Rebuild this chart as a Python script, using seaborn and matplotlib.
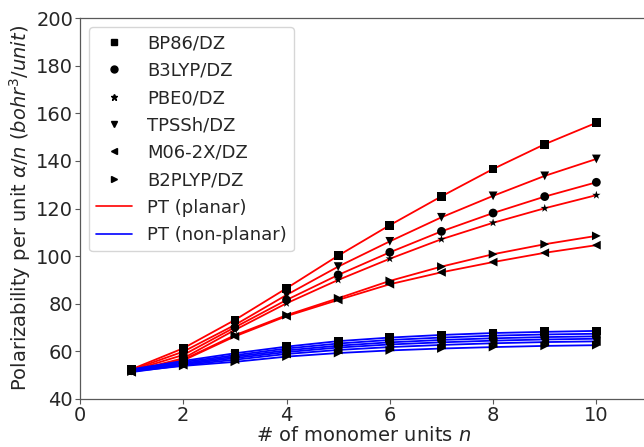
import numpy as np
import pandas as pd
import matplotlib
matplotlib.use("Agg")
import matplotlib.pyplot as plt
from matplotlib.lines import Line2D
import seaborn as sns

sns.set_style("ticks")
plt.rcParams["font.family"] = ["DejaVu Sans"]

# Number of monomer units
n_units = [1, 2, 3, 4, 5, 6, 7, 8, 9, 10]

functionals = ["BP86/DZ", "B3LYP/DZ", "PBE0/DZ", "TPSSh/DZ", "M06-2X/DZ", "B2PLYP/DZ"]
markers = ["s", "o", "*", "v", "<", ">"]

# Polarizability per unit (bohr^3/unit), planar chains
planar_bp86 = [52.5, 61.3, 73.2, 86.5, 100.2, 113.0, 125.1, 136.6, 147.0, 156.0]
planar_b3lyp = [51.9, 58.5, 70.1, 81.6, 92.1, 101.6, 110.4, 118.1, 125.0, 131.0]
planar_pbe0 = [51.6, 57.1, 69.0, 80.2, 90.0, 98.9, 107.1, 114.0, 120.1, 125.6]
planar_tpssh = [52.2, 59.9, 71.1, 83.7, 95.6, 106.2, 116.3, 125.3, 133.7, 140.8]
planar_m06 = [51.3, 56.2, 66.3, 74.8, 81.6, 88.2, 93.2, 97.5, 101.4, 104.6]
planar_b2plyp = [51.6, 56.5, 66.8, 75.2, 82.3, 89.6, 95.6, 100.8, 105.0, 108.5]

# Polarizability per unit (bohr^3/unit), non-planar chains
nonplanar_bp86 = [52.5, 56.0, 59.2, 62.0, 64.3, 65.8, 66.9, 67.7, 68.2, 68.6]
nonplanar_b3lyp = [51.9, 55.0, 57.8, 60.4, 62.4, 63.8, 64.8, 65.5, 66.0, 66.3]
nonplanar_pbe0 = [51.6, 54.6, 57.2, 59.7, 61.6, 62.9, 63.8, 64.5, 65.0, 65.3]
nonplanar_tpssh = [52.2, 55.5, 58.4, 61.2, 63.3, 64.8, 65.8, 66.6, 67.1, 67.4]
nonplanar_m06 = [51.3, 54.2, 56.5, 58.9, 60.6, 61.8, 62.7, 63.4, 63.9, 64.2]
nonplanar_b2plyp = [51.6, 53.9, 55.6, 57.8, 59.3, 60.4, 61.2, 61.8, 62.3, 62.6]

planar = [planar_bp86, planar_b3lyp, planar_pbe0, planar_tpssh, planar_m06, planar_b2plyp]
nonplanar = [nonplanar_bp86, nonplanar_b3lyp, nonplanar_pbe0, nonplanar_tpssh,
             nonplanar_m06, nonplanar_b2plyp]

rows = []
for func, pv, nv in zip(functionals, planar, nonplanar):
    for n, a in zip(n_units, pv):
        rows.append({"n": n, "alpha": a, "functional": func, "geometry": "PT (planar)"})
    for n, a in zip(n_units, nv):
        rows.append({"n": n, "alpha": a, "functional": func, "geometry": "PT (non-planar)"})
df = pd.DataFrame(rows)

fig = plt.figure(figsize=(6.44, 4.47), dpi=100)
ax = fig.add_axes([80 / 644, 48 / 447, 568 / 644, 381 / 447])

geom_colors = {"PT (planar)": "red", "PT (non-planar)": "blue"}
sns.lineplot(data=df, x="n", y="alpha", hue="geometry", units="functional",
             estimator=None, palette=geom_colors, linewidth=1.3, legend=False,
             ax=ax, zorder=2)
sns.scatterplot(data=df, x="n", y="alpha", style="functional",
                markers=dict(zip(functionals, markers)), color="black",
                s=40, edgecolor="black", linewidth=0, legend=False, ax=ax, zorder=3)

ax.set_xlim(0, 11)
ax.set_ylim(40, 200)
ax.set_xticks([0, 2, 4, 6, 8, 10])
ax.set_yticks(np.arange(40, 201, 20))
ax.tick_params(labelsize=14, length=3.5, width=0.8, color="0.35", pad=1.5)
for sp in ax.spines.values():
    sp.set_color("0.35")
    sp.set_linewidth(0.9)

ax.set_xlabel(r"# of monomer units $n$", fontsize=14, labelpad=1)
ax.set_ylabel(r"Polarizability per unit $\alpha/n$ ($bohr^3/unit$)", fontsize=14,
              labelpad=2)

handles = [Line2D([], [], linestyle="none", marker=m, color="black", markersize=5)
           for m in markers]
handles += [Line2D([], [], color=c, linewidth=1.2) for c in geom_colors.values()]
labels = functionals + list(geom_colors.keys())
ax.legend(handles, labels, loc="upper left", fontsize=13, frameon=True,
          fancybox=True, framealpha=0.8, edgecolor="0.8", labelspacing=0.52)

fig.savefig("out.png", dpi=100)
